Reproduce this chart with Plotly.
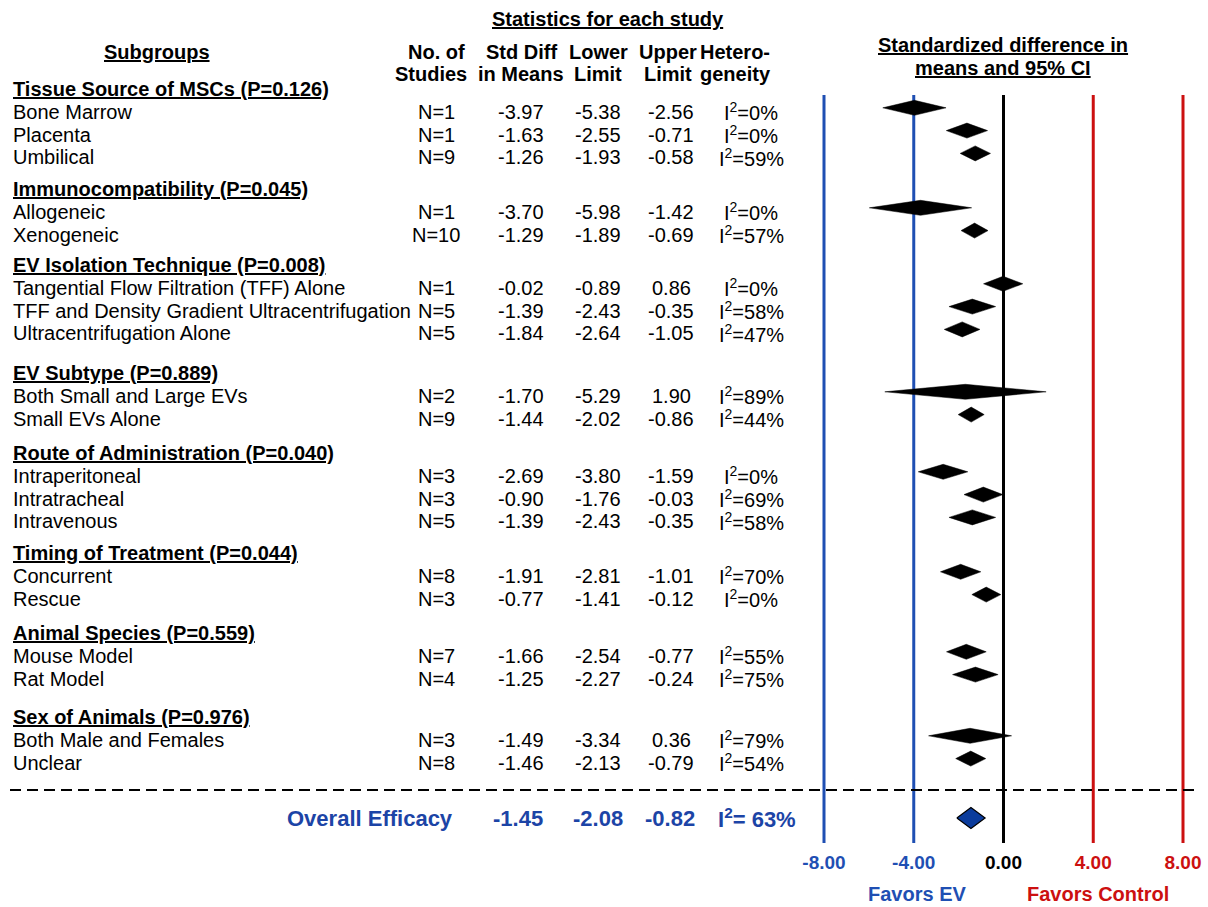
import plotly.graph_objects as go

# ---- subgroup analysis data ----
group_titles = ["Tissue Source of MSCs", "Immunocompatibility", "EV Isolation Technique", "EV Subtype",
                "Route of Administration", "Timing of Treatment", "Animal Species", "Sex of Animals"]
group_p = ["0.126", "0.045", "0.008", "0.889", "0.040", "0.044", "0.559", "0.976"]
group_sizes = [3, 2, 3, 2, 3, 2, 2, 2]

labels = ["Bone Marrow", "Placenta", "Umbilical",
          "Allogeneic", "Xenogeneic",
          "Tangential Flow Filtration (TFF) Alone", "TFF and Density Gradient Ultracentrifugation",
          "Ultracentrifugation Alone",
          "Both Small and Large EVs", "Small EVs Alone",
          "Intraperitoneal", "Intratracheal", "Intravenous",
          "Concurrent", "Rescue",
          "Mouse Model", "Rat Model",
          "Both Male and Females", "Unclear"]
n_studies = [1, 1, 9, 1, 10, 1, 5, 5, 2, 9, 3, 3, 5, 8, 3, 7, 4, 3, 8]
smd = [-3.97, -1.63, -1.26, -3.70, -1.29, -0.02, -1.39, -1.84, -1.70, -1.44,
       -2.69, -0.90, -1.39, -1.91, -0.77, -1.66, -1.25, -1.49, -1.46]
lower = [-5.38, -2.55, -1.93, -5.98, -1.89, -0.89, -2.43, -2.64, -5.29, -2.02,
         -3.80, -1.76, -2.43, -2.81, -1.41, -2.54, -2.27, -3.34, -2.13]
upper = [-2.56, -0.71, -0.58, -1.42, -0.69, 0.86, -0.35, -1.05, 1.90, -0.86,
         -1.59, -0.03, -0.35, -1.01, -0.12, -0.77, -0.24, 0.36, -0.79]
i2 = [0, 0, 59, 0, 57, 0, 58, 47, 89, 44, 0, 69, 58, 70, 0, 55, 75, 79, 54]

overall_smd = -1.45
overall_lower = -2.08
overall_upper = -0.82
overall_i2 = 63

tick_values = [-8, -4, 0, 4, 8]
tick_labels = ["-8.00", "-4.00", "0.00", "4.00", "8.00"]

# ---- page geometry (pixels) ----
W, H = 1208, 907
FONT = "Liberation Sans, Arial, sans-serif"
NARROW = "Liberation Sans Narrow, Arial Narrow, Liberation Sans, Arial, sans-serif"
BODY = 20
BLUE = "#1f4fb3"
DARK_BLUE = "#1c44a6"
RED = "#cc1010"
tick_colors = [BLUE, BLUE, "black", RED, RED]

# x scale: -8 sits at 824 px, +8 at 1183 px; range padded so edge lines are not clipped
PX_PER_UNIT = (1183 - 824) / 16
X_PAD = 0.5
x_lo_px = 824 - X_PAD * PX_PER_UNIT
x_hi_px = 1183 + X_PAD * PX_PER_UNIT
PLOT_BOTTOM = 843                # bottom of the reference lines
group_header_y = [89, 189, 265, 373, 453, 553, 633, 717]
row_step = 22.8
DIAMOND_HALF = 7.5
DIAMOND_SHIFT = -4

# row positions
row_y = []
for gy, size in zip(group_header_y, group_sizes):
    for k in range(size):
        row_y.append(gy + row_step * (k + 1))

fig = go.Figure()

# diamonds for each subgroup
dx, dy = [], []
for lo, est, hi, yc in zip(lower, smd, upper, row_y):
    c = yc + DIAMOND_SHIFT
    dx += [lo, est, hi, est, lo, None]
    dy += [c, c - DIAMOND_HALF, c, c + DIAMOND_HALF, c, None]
fig.add_trace(go.Scatter(x=dx, y=dy, mode="lines", fill="toself", fillcolor="black",
                         line=dict(color="black", width=0.5), hoverinfo="skip", showlegend=False))

# overall diamond
oy = 818
fig.add_trace(go.Scatter(
    x=[overall_lower, overall_smd, overall_upper, overall_smd, overall_lower],
    y=[oy, oy - 10.5, oy, oy + 10.5, oy], mode="lines", fill="toself",
    fillcolor="#0b3c9c", line=dict(color="black", width=1.2),
    hoverinfo="skip", showlegend=False))

# vertical reference lines
for v, col in zip(tick_values, tick_colors):
    fig.add_shape(type="line", xref="x", yref="y", x0=v, x1=v, y0=95, y1=PLOT_BOTTOM,
                  line=dict(color=col, width=3), layer="below")

# dashed separator
fig.add_shape(type="line", xref="paper", yref="paper", x0=10 / W, x1=1197 / W,
              y0=1 - 790 / H, y1=1 - 790 / H,
              line=dict(color="black", width=2, dash="11px,6px"))


def text(xp, yp, s, anchor="center", size=BODY, color="black", family=FONT):
    fig.add_annotation(x=xp / W, y=1 - yp / H, xref="paper", yref="paper", text=s, showarrow=False,
                       xanchor=anchor, yanchor="middle",
                       font=dict(family=family, size=size, color=color))


# column headers
text(608, 19, "<b><u>Statistics for each study</u></b>")
text(157, 52, "<b><u>Subgroups</u></b>")
col_x = [436, 521, 598, 671, 751]
head_x = [436, 521, 598, 668, 735]
head_1 = ["No. of", "Std Diff", "Lower", "Upper", "Hetero-"]
head_2 = ["Studies", "in Means", "Limit", "Limit", "geneity"]
for hx, a, b in zip(head_x, head_1, head_2):
    text(hx, 52, f"<b>{a}</b>")
    text(hx - (5 if a == "No. of" else 0), 74, f"<b>{b}</b>")
text(1003, 45, "<b><u>Standardized difference in</u></b>")
text(1003, 68, "<b><u>means and 95% CI</u></b>")

# group titles
for gy, title, p in zip(group_header_y, group_titles, group_p):
    text(11, gy, f"<b><u>{title} (P={p})</u></b>", anchor="left")

# subgroup rows
for yc, lab, n, m, lo, hi, h in zip(row_y, labels, n_studies, smd, lower, upper, i2):
    text(11, yc, lab, anchor="left")
    text(col_x[0], yc, f"N={n}")
    text(col_x[1], yc, f"{m:.2f}")
    text(col_x[2], yc, f"{lo:.2f}")
    text(col_x[3], yc, f"{hi:.2f}")
    text(col_x[4], yc, f"I<sup>2</sup>={h}%")

# overall row
text(455, oy, "<b>Overall Efficacy</b>", anchor="right", size=22, color=DARK_BLUE, family=NARROW)
text(518, oy, f"<b>{overall_smd:.2f}</b>", size=22, color=DARK_BLUE, family=NARROW)
text(598, oy, f"<b>{overall_lower:.2f}</b>", size=22, color=DARK_BLUE, family=NARROW)
text(670, oy, f"<b>{overall_upper:.2f}</b>", size=22, color=DARK_BLUE, family=NARROW)
text(757, oy, f"<b>I<sup>2</sup>= {overall_i2}%</b>", size=22, color=DARK_BLUE, family=NARROW)

# direction labels
text(917, 894, "<b>Favors EV</b>", color=BLUE)
text(1098, 894, "<b>Favors Control</b>", color=RED)

fig.update_layout(
    template="none",
    width=W, height=H, margin=dict(l=0, r=0, t=0, b=0, pad=0, autoexpand=False),
    paper_bgcolor="white", plot_bgcolor="white", showlegend=False,
    xaxis=dict(domain=[x_lo_px / W, x_hi_px / W], range=[-8 - X_PAD, 8 + X_PAD], autorange=False,
               tickvals=tick_values,
               ticktext=[f"<span style='color:{c}'><b>{t}</b></span>" for t, c in zip(tick_labels, tick_colors)],
               tickfont=dict(family=FONT, size=19, color="black"),
               ticks="", showgrid=False, zeroline=False, showline=False, automargin=False,
               ticklabelstandoff=6, fixedrange=True),
    yaxis=dict(domain=[(H - PLOT_BOTTOM) / H, 1], range=[PLOT_BOTTOM, 0], autorange=False,
               visible=False, automargin=False, fixedrange=True),
)

fig.write_html("out.html")
